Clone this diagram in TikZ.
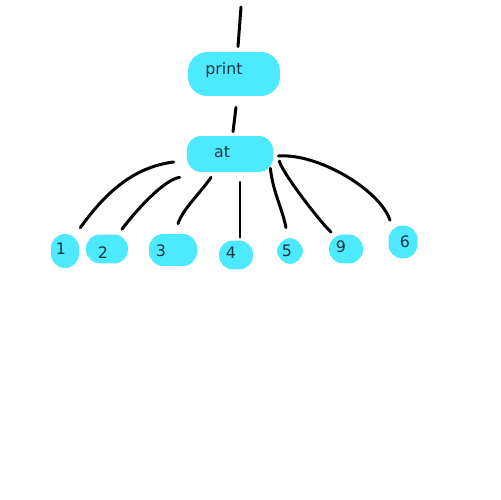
\documentclass[tikz,border=0pt]{standalone}
\usepackage{fontspec}
\setmainfont{DejaVu Sans}
\definecolor{blobcyan}{RGB}{77,233,255}
\definecolor{inkteal}{RGB}{22,52,62}
\tikzset{
  blob/.style={fill=blobcyan, rounded corners=8pt, inner sep=0pt},
  tag/.style={text=inkteal, inner sep=0pt, font=\fontsize{9pt}{11pt}\selectfont},
  edge/.style={line width=1.7pt, line cap=round, line join=round}
}
\begin{document}
\begin{tikzpicture}[x=0.02cm, y=-0.02cm]
\useasboundingbox (0,0) rectangle (500,500);

%%%%%%%%%%%% Inner nodes
\node[blob, minimum width=1.84cm, minimum height=0.88cm, rounded corners=11pt,
  label={[tag, shift={(-10,-4)}]center:print}] (print) at (234,74) {};
\node[blob, minimum width=1.72cm, minimum height=0.72cm,
  label={[tag, shift={(-8,-2)}]center:at}] (at) at (230,154) {};
\coordinate (top) at (241,7);

%%%%%%%%%%%% Leaves
\foreach \name/\x/\y/\w/\h/\dx/\dy in {1/65/251/0.56/0.68/-4/-2, 2/107/249/0.84/0.58/-4/4,
    3/173/250/0.96/0.64/-12/1, 4/236/255/0.68/0.58/-5/-2, 5/290/251/0.52/0.52/-3/0,
    9/346/249/0.68/0.58/-5/-2, 6/403/242/0.58/0.66/2/0}
  \node[blob, minimum width=\w cm, minimum height=\h cm,
    label={[tag, shift={(\dx,\dy)}]center:\name}] (n\name) at (\x,\y) {};

%%%%%%%%%%%% Edges
\draw[edge] (top) -- ([shift={(4,-5)}]print.north);
\draw[edge] ([shift={(2,11)}]print.south) -- ([shift={(3,-4)}]at.north);

\draw[edge] ([shift={(-13,8)}]at.west) .. controls +(-40,5) and +(25,-35) .. ([shift={(1,-6)}]n1.north east);
\draw[edge] ([shift={(-7,5)}]at.south west) .. controls +(-15,2) and +(15,-20) .. ([shift={(15,-5)}]n2.north);
\draw[edge] ([shift={(-19,5)}]at.south) .. controls +(-10,15) and +(5,-15) .. ([shift={(5,-10)}]n3.north);
\draw[edge] ([shift={(10,10)}]at.south) -- ([shift={(4,-3)}]n4.north);
\draw[edge] ([shift={(-3,-4)}]at.south east) .. controls +(3,25) and +(-4,-20) .. ([shift={(-4,-10)}]n5.north);
\draw[edge] ([shift={(6,7)}]at.east) .. controls +(2,10) and +(-15,-15) .. ([shift={(-15,-2)}]n9.north);
\draw[edge] ([shift={(5,2)}]at.east) .. controls +(40,-3) and +(-10,-30) .. ([shift={(-13,-5)}]n6.north);
\end{tikzpicture}
\end{document}
